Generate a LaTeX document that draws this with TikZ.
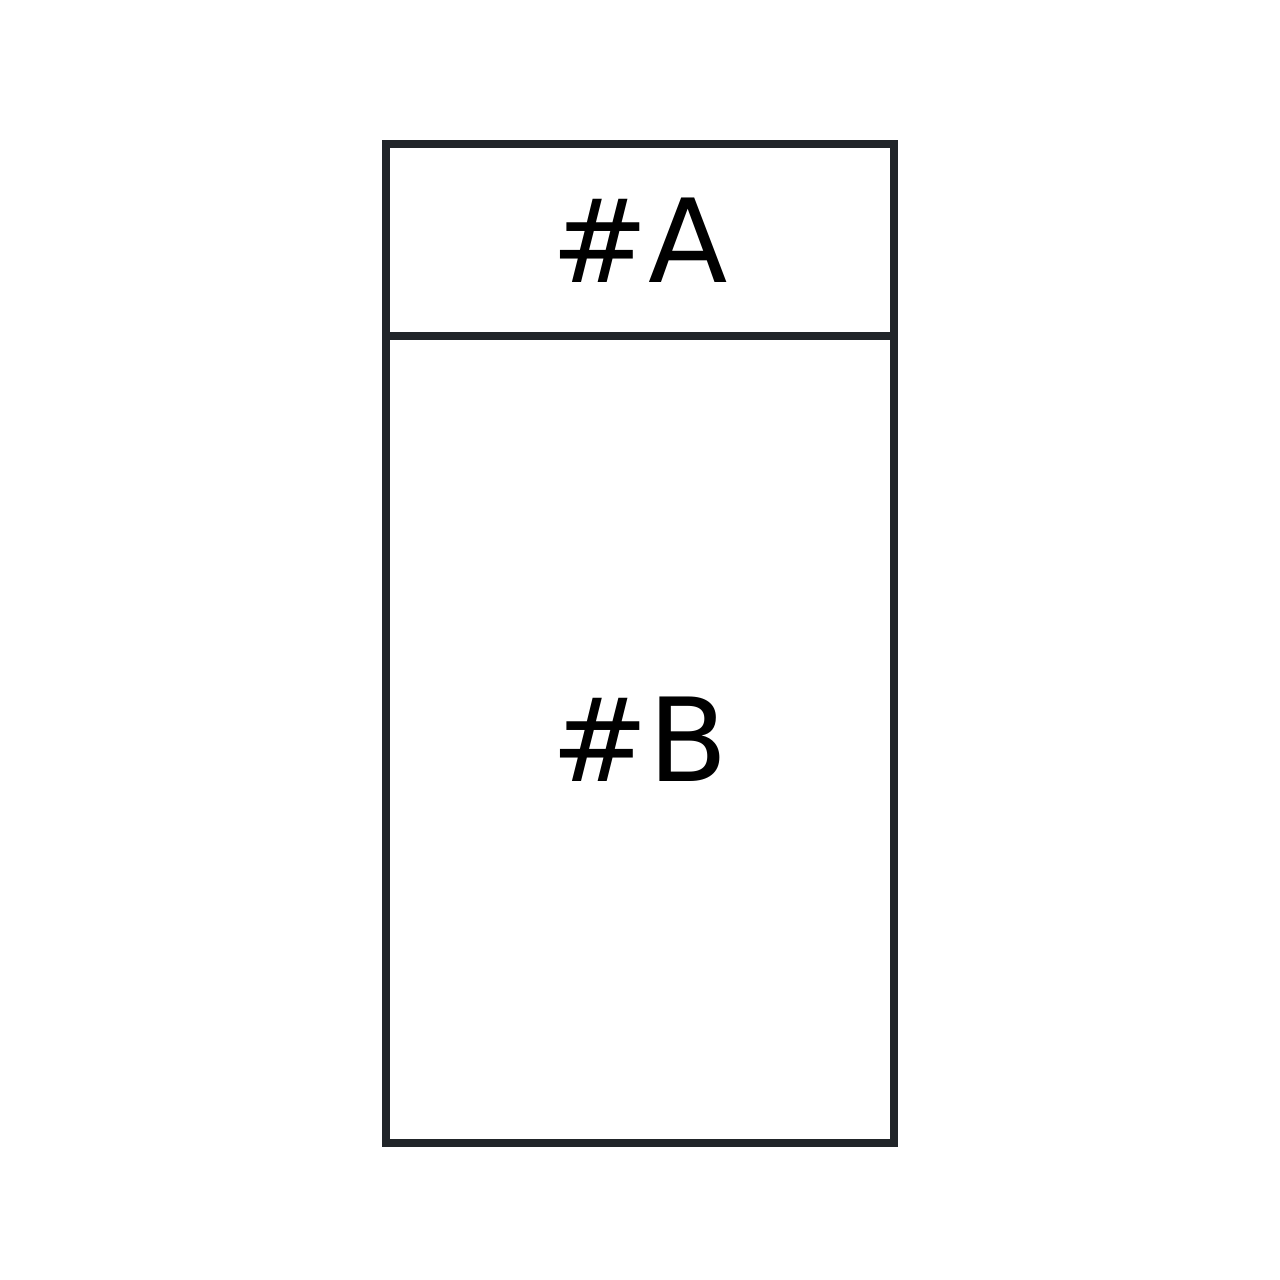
\documentclass[tikz,border=0pt]{standalone}
\usepackage{fontspec}
\setmainfont{DejaVu Sans}
\usetikzlibrary{positioning}
\definecolor{framecol}{RGB}{33,37,41}
\tikzset{
  cellbox/.style={draw=framecol, line width=2.3pt, minimum width=5.08cm,
    inner sep=0pt, outer sep=0pt, font=\fontsize{33}{40}\selectfont, text=black},
}

\begin{document}
\begin{tikzpicture}[line cap=rect, line join=miter]
\useasboundingbox (0,0) rectangle (12.8,-12.8);

% ------------------------------------------------------------------
% Two stacked cells: short header on top, tall body below
% ------------------------------------------------------------------
\node[cellbox, minimum height=1.92cm, anchor=north west] (cellA) at (3.86,-1.44) {\#A};
\node[cellbox, minimum height=8.07cm, below=0pt of cellA] (cellB) {\#B};

\end{tikzpicture}
\end{document}
